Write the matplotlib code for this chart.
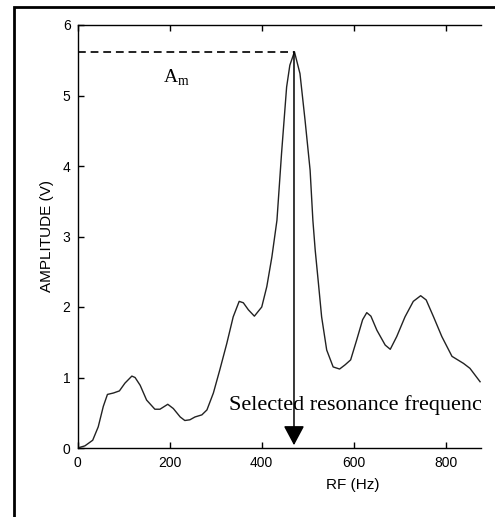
#!/usr/bin/env python3
"""
Resonance spectrum: amplitude vs. RF, with the selected resonance frequency marked.
"""

import matplotlib
matplotlib.use('Agg')
import matplotlib.pyplot as plt
from matplotlib.patches import Rectangle

# Spectrum
freq = [0, 16, 33, 45, 56, 65, 78, 91, 103, 118, 125, 136, 150, 168, 179,
        196, 208, 223, 233, 244, 255, 270, 281, 295, 309, 324, 338, 351, 360,
        371, 384, 400, 411, 422, 433, 443, 454, 461, 471, 483, 494, 505, 511,
        516, 523, 530, 541, 555, 569, 581, 593, 606, 619, 628, 637, 650, 668,
        679, 693, 711, 729, 745, 757, 773, 791, 813, 838, 852, 874]
amp = [0, 0.03, 0.11, 0.30, 0.59, 0.76, 0.78, 0.81, 0.92, 1.02, 1.00, 0.89,
       0.68, 0.55, 0.55, 0.62, 0.56, 0.44, 0.39, 0.40, 0.44, 0.47, 0.54, 0.78,
       1.11, 1.48, 1.86, 2.08, 2.06, 1.96, 1.87, 2.00, 2.29, 2.71, 3.23, 4.18,
       5.12, 5.43, 5.62, 5.31, 4.65, 3.94, 3.23, 2.81, 2.34, 1.86, 1.39, 1.15,
       1.12, 1.18, 1.25, 1.53, 1.82, 1.92, 1.87, 1.67, 1.46, 1.40, 1.58, 1.86,
       2.08, 2.16, 2.10, 1.86, 1.58, 1.30, 1.20, 1.13, 0.94]

peak_freq = 470
peak_amp = 5.62

x_ticks = [0, 200, 400, 600, 800]
y_ticks = [0, 1, 2, 3, 4, 5, 6]

plt.rcParams['font.family'] = ['Liberation Sans', 'DejaVu Sans']
plt.rcParams['mathtext.fontset'] = 'custom'
plt.rcParams['mathtext.rm'] = 'Liberation Serif'

W, H = 495, 517
fig = plt.figure(figsize=(W / 100, H / 100), dpi=100)

# outer frame (cropped on the right and bottom in the original)
fig.patches.append(Rectangle((14 / W, -0.1), 1.2, 1.1 - 7 / H,
                             transform=fig.transFigure, fill=False,
                             edgecolor='black', linewidth=2.0))

ax = fig.add_axes([77.5 / W, (H - 448) / H, (481 - 77.5) / W, (448 - 25) / H])
ax.plot(freq, amp, color='#222222', linewidth=1.0)

ax.set_xlim(0, 876)
ax.set_ylim(0, 6)
ax.set_xticks(x_ticks)
ax.set_yticks(y_ticks)
ax.tick_params(direction='in', top=True, length=4, width=1.0,
               labelsize=10, pad=5)
ax.tick_params(axis='x', pad=6)
ax.spines['right'].set_visible(False)
for s in ['left', 'bottom', 'top']:
    ax.spines[s].set_linewidth(1.0)

ax.set_xlabel('RF (Hz)', fontsize=11)
ax.set_ylabel('AMPLITUDE (V)', fontsize=11)
ax.xaxis.set_label_coords(0.683, -0.071)
ax.yaxis.set_label_coords(-0.058, 0.5)

# A_m dashed level and the arrow down to the selected frequency
ax.plot([0, peak_freq], [peak_amp, peak_amp], color='#222222',
        linestyle=(0, (4, 2.5)), linewidth=1.4)
ax.annotate('', xy=(peak_freq, 0.04), xytext=(peak_freq, peak_amp),
            arrowprops=dict(arrowstyle='-|>,head_length=1.2,head_width=0.64',
                            color='black', lw=1.1, mutation_scale=10,
                            shrinkA=0, shrinkB=0))

ax.text(186, 5.18, r'$\mathrm{A}_{\mathrm{m}}$', fontsize=14,
        ha='left', va='baseline')
ax.text(329, 0.54, 'Selected resonance frequency', fontsize=16,
        family='Liberation Serif', ha='left', va='baseline', clip_on=True)

fig.savefig('out.png', dpi=100)
